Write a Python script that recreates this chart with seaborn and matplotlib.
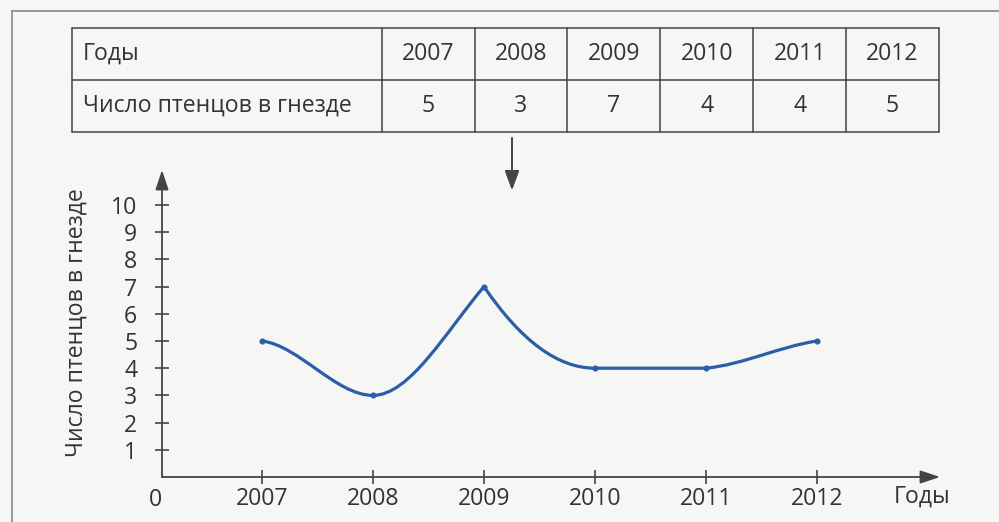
import numpy as np
import matplotlib
matplotlib.use("Agg")
import matplotlib.pyplot as plt
from matplotlib.path import Path
from matplotlib.patches import PathPatch
from matplotlib.lines import Line2D
import seaborn as sns

# data from the table / chart
years = [2007, 2008, 2009, 2010, 2011, 2012]
chicks = [5, 3, 7, 4, 4, 5]
row_heads = ["Годы", "Число птенцов в гнезде"]
y_ticks = list(range(1, 11))
x_name = "Годы"
y_name = "Число птенцов в гнезде"

sns.set_style("white")
plt.rcParams["font.family"] = ["Open Sans", "DejaVu Sans"]

W, H = 999, 522
bg = "#f6f6f5"
ink = "#333333"
line_c = "#444444"
blue = "#2b5ea7"
fs = 16.6

fig = plt.figure(figsize=(W / 100, H / 100), dpi=100)
fig.patch.set_facecolor(bg)


def px_axes(x0, y0, x1, y1):
    # box given in pixels, origin top-left
    ax = fig.add_axes([x0 / W, 1 - y1 / H, (x1 - x0) / W, (y1 - y0) / H])
    ax.set_facecolor("none")
    return ax


# outer frame of the figure box
fig.add_artist(Line2D([12 / W, 1], [1 - 11 / H, 1 - 11 / H], color="#888", lw=1.2))
fig.add_artist(Line2D([12 / W, 12 / W], [0, 1 - 11 / H], color="#888", lw=1.2))

# ---- table ----
tab = px_axes(72, 28, 939, 132)
head_w = (382 - 72) / 93
ncol = len(years)
total = head_w + ncol
tab.set_xlim(0, total)
tab.set_ylim(0, 2)
tab.axis("off")
for yy in [0, 1, 2]:
    tab.plot([0, total], [yy, yy], color=line_c, lw=1.1, clip_on=False)
for xx in [0, head_w] + [head_w + i + 1 for i in range(ncol)]:
    tab.plot([xx, xx], [0, 2], color=line_c, lw=1.1, clip_on=False)
tab.text(0.12, 1.5, row_heads[0], ha="left", va="center", fontsize=fs, color=ink)
tab.text(0.12, 0.5, row_heads[1], ha="left", va="center", fontsize=fs, color=ink)
for i, (yr, c) in enumerate(zip(years, chicks)):
    tab.text(head_w + i + 0.5, 1.5, str(yr), ha="center", va="center", fontsize=fs, color=ink)
    tab.text(head_w + i + 0.5, 0.5, str(c), ha="center", va="center", fontsize=fs, color=ink)

# arrow from table down to the chart
fig.add_artist(plt.annotate("", xy=(512 / W, 1 - 190 / H), xytext=(512 / W, 1 - 138 / H),
                            xycoords="figure fraction",
                            arrowprops=dict(arrowstyle="-|>,head_length=0.6,head_width=0.22",
                                            color=line_c, lw=1.2, mutation_scale=20,
                                            shrinkA=0, shrinkB=0)))

# ---- chart ----
ox, x07, step = 162, 262, 111
ax = px_axes(ox, 170, 940, 477)
ax.set_xlim(years[0] - (x07 - ox) / step, years[0] + (940 - x07) / step)
ax.set_ylim(0, (477 - 170) / 27.2)
sns.despine(ax=ax, left=True, bottom=True, right=True, top=True)

# axes with arrow heads
arrow_kw = dict(arrowstyle="-|>,head_length=0.6,head_width=0.2", color=line_c, lw=1.3,
                mutation_scale=20, shrinkA=0, shrinkB=0)
ax.annotate("", xy=(1, 0), xytext=(0, 0), xycoords="axes fraction", arrowprops=arrow_kw)
ax.annotate("", xy=(0, 1), xytext=(0, 0), xycoords="axes fraction", arrowprops=arrow_kw)

ax.set_xticks(years)
ax.set_xticklabels([str(y) for y in years])
ax.set_yticks(y_ticks)
ax.set_yticklabels([str(t) for t in y_ticks])
ax.tick_params(axis="both", direction="inout", length=9.5, width=1.2, color=line_c,
               labelsize=fs, labelcolor=ink, bottom=True, left=True)
ax.tick_params(axis="x", pad=2.5)
ax.tick_params(axis="y", pad=13)

ax.annotate("0", xy=(0, 0), xycoords="axes fraction", xytext=(-5, -16.5),
            textcoords="offset points", ha="center", va="center", fontsize=fs, color=ink)
ax.annotate(x_name, xy=((922 - ox) / (940 - ox), 0), xycoords="axes fraction",
            xytext=(0, -14.4), textcoords="offset points", ha="center", va="center",
            fontsize=fs, color=ink)
ax.text((77 - ox) / (940 - ox), (477 - 323) / (477 - 170), y_name, rotation=90,
        transform=ax.transAxes, ha="center", va="center", fontsize=fs, color=ink)

# smooth curve through the points (cubic bezier pieces, cusp at the peak)
xs = np.array(years, float)
ys = np.array(chicks, float)
n = len(xs)
sec = np.diff(ys) / np.diff(xs)
lt = np.zeros(n)
rt = np.zeros(n)
rt[0] = 0.25 * sec[0]
lt[-1] = 0.6 * sec[-1]
for i in range(1, n - 1):
    a, b = sec[i - 1], sec[i]
    if a > 0 and b < 0:
        lt[i], rt[i] = 1.2 * a, 2.0 * b
    elif a * b > 0:
        lt[i] = rt[i] = (a + b) / 2
    elif a == 0 and b > 0:
        rt[i] = 0.4 * b
verts = [(xs[0], ys[0])]
codes = [Path.MOVETO]
for i in range(n - 1):
    d = (xs[i + 1] - xs[i]) / 3
    verts += [(xs[i] + d, ys[i] + rt[i] * d), (xs[i + 1] - d, ys[i + 1] - lt[i + 1] * d),
              (xs[i + 1], ys[i + 1])]
    codes += [Path.CURVE4] * 3
ax.add_patch(PathPatch(Path(verts, codes), fill=False, edgecolor=blue, lw=2.3,
                       joinstyle="round", capstyle="round", zorder=2))
sns.scatterplot(x=years, y=chicks, ax=ax, s=16, color=blue, edgecolor=None, zorder=3)

fig.savefig("out.png", dpi=100, facecolor=bg)
